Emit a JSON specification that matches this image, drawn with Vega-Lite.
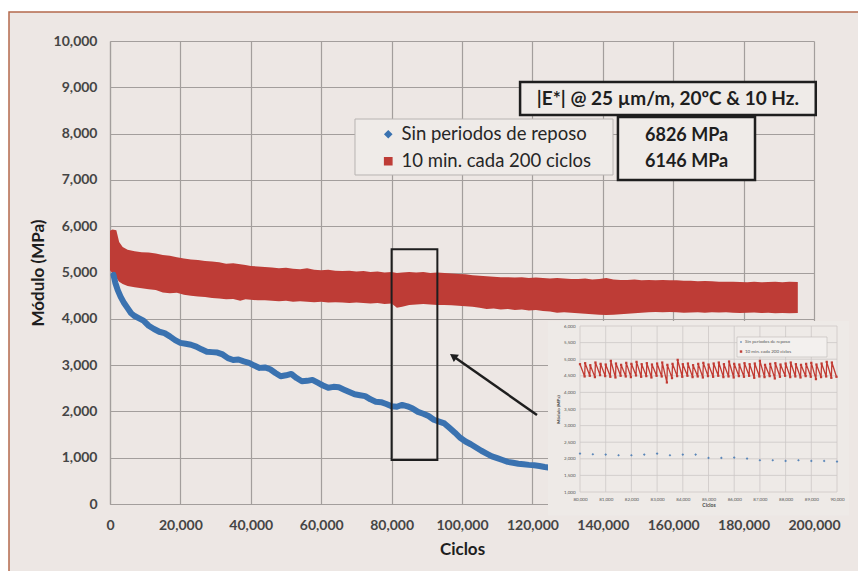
{
  "$schema": "https://vega.github.io/schema/vega-lite/v6.json",
  "width": 704,
  "height": 463,
  "autosize": {"type": "none"},
  "padding": {"left": 110, "top": 41, "right": 44, "bottom": 67},
  "background": "#ede7e4",
  "config": {"view": {"stroke": null}, "font": "Lato", "axis": {"labelFont": "Lato", "titleFont": "Lato"}},
  "data": {"values": [{}]},
  "datasets": {
    "red": [
      {"c":0,"lo":5050,"hi":5900},{"c":700,"lo":4980,"hi":5930},{"c":1800,"lo":4880,"hi":5910},{"c":2600,"lo":4800,"hi":5660},{"c":3600,"lo":4750,"hi":5550},{"c":5000,"lo":4710,"hi":5490},{"c":7000,"lo":4680,"hi":5460},{"c":9000,"lo":4660,"hi":5440},{"c":11000,"lo":4640,"hi":5430},{"c":13000,"lo":4620,"hi":5410},{"c":15000,"lo":4570,"hi":5380},{"c":17000,"lo":4550,"hi":5360},{"c":19000,"lo":4560,"hi":5330},{"c":21000,"lo":4520,"hi":5300},{"c":23000,"lo":4500,"hi":5280},{"c":25000,"lo":4480,"hi":5270},{"c":27000,"lo":4470,"hi":5250},{"c":29000,"lo":4450,"hi":5240},{"c":31000,"lo":4440,"hi":5220},{"c":33000,"lo":4420,"hi":5190},{"c":35000,"lo":4430,"hi":5200},{"c":37000,"lo":4390,"hi":5180},{"c":38500,"lo":4420,"hi":5160},{"c":40000,"lo":4410,"hi":5140},{"c":42000,"lo":4400,"hi":5130},{"c":44000,"lo":4400,"hi":5120},{"c":46000,"lo":4390,"hi":5110},{"c":48000,"lo":4380,"hi":5090},{"c":50000,"lo":4390,"hi":5100},{"c":52000,"lo":4370,"hi":5080},{"c":54000,"lo":4380,"hi":5070},{"c":56000,"lo":4370,"hi":5090},{"c":58000,"lo":4360,"hi":5060},{"c":60000,"lo":4370,"hi":5050},{"c":62000,"lo":4350,"hi":5060},{"c":64000,"lo":4360,"hi":5040},{"c":66000,"lo":4350,"hi":5030},{"c":68000,"lo":4340,"hi":5040},{"c":70000,"lo":4350,"hi":5020},{"c":72000,"lo":4340,"hi":5030},{"c":74000,"lo":4330,"hi":5010},{"c":76000,"lo":4340,"hi":5020},{"c":78000,"lo":4320,"hi":5000},{"c":80000,"lo":4330,"hi":5010},{"c":81500,"lo":4240,"hi":4990},{"c":83000,"lo":4260,"hi":5000},{"c":85000,"lo":4300,"hi":5010},{"c":87000,"lo":4310,"hi":5000},{"c":89000,"lo":4320,"hi":5010},{"c":91000,"lo":4310,"hi":4990},{"c":93000,"lo":4300,"hi":5000},{"c":95000,"lo":4300,"hi":4990},{"c":97000,"lo":4290,"hi":4980},{"c":99000,"lo":4280,"hi":4970},{"c":101000,"lo":4270,"hi":4960},{"c":103000,"lo":4260,"hi":4940},{"c":105000,"lo":4240,"hi":4930},{"c":107000,"lo":4210,"hi":4920},{"c":109000,"lo":4220,"hi":4910},{"c":111000,"lo":4200,"hi":4900},{"c":113000,"lo":4210,"hi":4900},{"c":115000,"lo":4190,"hi":4890},{"c":117000,"lo":4200,"hi":4900},{"c":119000,"lo":4180,"hi":4880},{"c":121000,"lo":4190,"hi":4890},{"c":123000,"lo":4170,"hi":4880},{"c":125000,"lo":4160,"hi":4870},{"c":127000,"lo":4130,"hi":4880},{"c":129000,"lo":4140,"hi":4870},{"c":131000,"lo":4130,"hi":4860},{"c":133000,"lo":4120,"hi":4860},{"c":135000,"lo":4110,"hi":4870},{"c":137000,"lo":4100,"hi":4850},{"c":139000,"lo":4090,"hi":4860},{"c":141000,"lo":4080,"hi":4880},{"c":143000,"lo":4090,"hi":4850},{"c":145000,"lo":4100,"hi":4840},{"c":147000,"lo":4110,"hi":4840},{"c":149000,"lo":4120,"hi":4850},{"c":151000,"lo":4130,"hi":4830},{"c":153000,"lo":4140,"hi":4840},{"c":155000,"lo":4145,"hi":4830},{"c":157000,"lo":4140,"hi":4840},{"c":159000,"lo":4145,"hi":4830},{"c":161000,"lo":4140,"hi":4830},{"c":163000,"lo":4130,"hi":4820},{"c":165000,"lo":4135,"hi":4820},{"c":167000,"lo":4140,"hi":4810},{"c":169000,"lo":4130,"hi":4815},{"c":171000,"lo":4140,"hi":4810},{"c":173000,"lo":4135,"hi":4800},{"c":175000,"lo":4140,"hi":4800},{"c":177000,"lo":4130,"hi":4800},{"c":179000,"lo":4125,"hi":4795},{"c":181000,"lo":4130,"hi":4790},{"c":183000,"lo":4135,"hi":4800},{"c":185000,"lo":4125,"hi":4790},{"c":187000,"lo":4130,"hi":4795},{"c":189000,"lo":4120,"hi":4800},{"c":191000,"lo":4125,"hi":4790},{"c":193000,"lo":4120,"hi":4800},{"c":195400,"lo":4125,"hi":4795}
    ],
    "blue": [
      {"c":1000,"m":4950},{"c":1500,"m":4780},{"c":2200,"m":4620},{"c":3000,"m":4480},{"c":4000,"m":4340},{"c":5000,"m":4230},{"c":6000,"m":4120},{"c":7000,"m":4060},{"c":8000,"m":4020},{"c":9500,"m":3960},{"c":11000,"m":3850},{"c":12500,"m":3780},{"c":14000,"m":3720},{"c":15500,"m":3690},{"c":17000,"m":3620},{"c":18500,"m":3540},{"c":20000,"m":3480},{"c":21500,"m":3460},{"c":23000,"m":3440},{"c":24500,"m":3400},{"c":26000,"m":3340},{"c":27500,"m":3290},{"c":29000,"m":3280},{"c":30500,"m":3270},{"c":32000,"m":3230},{"c":33500,"m":3150},{"c":35000,"m":3110},{"c":36500,"m":3120},{"c":38000,"m":3080},{"c":39500,"m":3050},{"c":41000,"m":2990},{"c":42500,"m":2940},{"c":44000,"m":2950},{"c":45500,"m":2910},{"c":47000,"m":2830},{"c":48500,"m":2760},{"c":50000,"m":2780},{"c":51500,"m":2810},{"c":53000,"m":2720},{"c":54500,"m":2650},{"c":56000,"m":2660},{"c":57500,"m":2680},{"c":59000,"m":2620},{"c":60500,"m":2560},{"c":62000,"m":2510},{"c":63500,"m":2530},{"c":65000,"m":2520},{"c":66500,"m":2470},{"c":68000,"m":2420},{"c":69500,"m":2370},{"c":71000,"m":2350},{"c":72500,"m":2330},{"c":74000,"m":2260},{"c":75500,"m":2210},{"c":77000,"m":2200},{"c":78500,"m":2160},{"c":80000,"m":2110},{"c":81500,"m":2100},{"c":83000,"m":2140},{"c":84500,"m":2110},{"c":86000,"m":2060},{"c":87500,"m":1990},{"c":89000,"m":1950},{"c":90500,"m":1900},{"c":92000,"m":1820},{"c":93500,"m":1780},{"c":95000,"m":1740},{"c":96500,"m":1640},{"c":98000,"m":1540},{"c":99500,"m":1430},{"c":101000,"m":1350},{"c":102500,"m":1290},{"c":104000,"m":1220},{"c":105500,"m":1150},{"c":107000,"m":1090},{"c":108500,"m":1030},{"c":110000,"m":990},{"c":111500,"m":950},{"c":113000,"m":910},{"c":114500,"m":890},{"c":116000,"m":870},{"c":117500,"m":860},{"c":119000,"m":845},{"c":120500,"m":835},{"c":122000,"m":820},{"c":123500,"m":800},{"c":124500,"m":790}
    ],
    "insetRed": [
      {"c":80000,"m":4850},{"c":80180,"m":4480},{"c":80200,"m":4880},{"c":80380,"m":4500},{"c":80400,"m":4820},{"c":80580,"m":4460},{"c":80600,"m":4900},{"c":80780,"m":4520},{"c":80800,"m":4860},{"c":80980,"m":4490},{"c":81000,"m":4840},{"c":81180,"m":4470},{"c":81200,"m":4950},{"c":81380,"m":4450},{"c":81400,"m":4870},{"c":81580,"m":4500},{"c":81600,"m":4830},{"c":81780,"m":4480},{"c":81800,"m":4890},{"c":81980,"m":4460},{"c":82000,"m":4860},{"c":82180,"m":4510},{"c":82200,"m":4920},{"c":82380,"m":4470},{"c":82400,"m":4850},{"c":82580,"m":4490},{"c":82600,"m":4880},{"c":82780,"m":4450},{"c":82800,"m":4840},{"c":82980,"m":4500},{"c":83000,"m":4870},{"c":83180,"m":4480},{"c":83200,"m":4900},{"c":83380,"m":4300},{"c":83400,"m":4830},{"c":83580,"m":4430},{"c":83600,"m":4860},{"c":83780,"m":4490},{"c":83800,"m":4980},{"c":83980,"m":4470},{"c":84000,"m":4850},{"c":84180,"m":4500},{"c":84200,"m":4870},{"c":84380,"m":4460},{"c":84400,"m":4820},{"c":84580,"m":4480},{"c":84600,"m":4860},{"c":84780,"m":4450},{"c":84800,"m":4890},{"c":84980,"m":4490},{"c":85000,"m":4840},{"c":85180,"m":4470},{"c":85200,"m":4870},{"c":85380,"m":4500},{"c":85400,"m":4900},{"c":85580,"m":4460},{"c":85600,"m":4850},{"c":85780,"m":4480},{"c":85800,"m":4930},{"c":85980,"m":4450},{"c":86000,"m":4860},{"c":86180,"m":4490},{"c":86200,"m":4840},{"c":86380,"m":4470},{"c":86400,"m":4880},{"c":86580,"m":4500},{"c":86600,"m":4850},{"c":86780,"m":4440},{"c":86800,"m":4870},{"c":86980,"m":4480},{"c":87000,"m":4950},{"c":87180,"m":4460},{"c":87200,"m":4830},{"c":87380,"m":4490},{"c":87400,"m":4860},{"c":87580,"m":4420},{"c":87600,"m":4880},{"c":87780,"m":4470},{"c":87800,"m":4840},{"c":87980,"m":4500},{"c":88000,"m":4870},{"c":88180,"m":4460},{"c":88200,"m":4900},{"c":88380,"m":4480},{"c":88400,"m":4850},{"c":88580,"m":4450},{"c":88600,"m":4830},{"c":88780,"m":4490},{"c":88800,"m":4860},{"c":88980,"m":4470},{"c":89000,"m":4890},{"c":89180,"m":4400},{"c":89200,"m":4840},{"c":89380,"m":4460},{"c":89400,"m":4870},{"c":89580,"m":4480},{"c":89600,"m":4920},{"c":89780,"m":4440},{"c":89800,"m":4900},{"c":89980,"m":4470}
    ],
    "insetBlue": [
      {"c":80000,"m":2157},{"c":80500,"m":2137},{"c":81000,"m":2127},{"c":81500,"m":2107},{"c":82000,"m":2107},{"c":82500,"m":2127},{"c":83000,"m":2157},{"c":83500,"m":2107},{"c":84000,"m":2127},{"c":84500,"m":2127},{"c":85000,"m":2026},{"c":85500,"m":2026},{"c":86000,"m":2036},{"c":86500,"m":2006},{"c":87000,"m":1956},{"c":87500,"m":1956},{"c":88000,"m":1936},{"c":88500,"m":1956},{"c":89000,"m":1936},{"c":89500,"m":1936},{"c":90000,"m":1916}
    ],
    "igx": [{"v":80000},{"v":81000},{"v":82000},{"v":83000},{"v":84000},{"v":85000},{"v":86000},{"v":87000},{"v":88000},{"v":89000},{"v":90000}],
    "igy": [{"v":1000},{"v":1500},{"v":2000},{"v":2500},{"v":3000},{"v":3500},{"v":4000},{"v":4500},{"v":5000},{"v":5500},{"v":6000}]
  },
  "layer": [
    {
      "layer": [
        {
          "data": {"name": "red"},
          "mark": {"type": "area", "color": "#be3c36"},
          "encoding": {
            "x": {"field": "c", "type": "quantitative",
              "scale": {"domain": [0, 200000], "nice": false, "zero": false},
              "axis": {"values": [0,20000,40000,60000,80000,100000,120000,140000,160000,180000,200000], "format": ",d", "title": "Ciclos",
                "grid": true, "gridColor": "#a39e9c", "gridWidth": 1.2, "domainColor": "#a39e9c", "domainWidth": 1.2, "ticks": false,
                "labelFontSize": 14, "labelFontWeight": "bold", "labelColor": "#454545", "labelPadding": 14, "labelFlush": false, "labelOverlap": false,
                "titleFontSize": 17, "titleFontWeight": "bold", "titleColor": "#1e1e1e", "titlePadding": 9}},
            "y": {"field": "lo", "type": "quantitative",
              "scale": {"domain": [0, 10000], "nice": false, "zero": false},
              "axis": {"values": [0,1000,2000,3000,4000,5000,6000,7000,8000,9000,10000], "format": ",d", "title": "Módulo (MPa)",
                "grid": true, "gridColor": "#a39e9c", "gridWidth": 1.2, "domainColor": "#a39e9c", "domainWidth": 1.2, "ticks": false,
                "labelFontSize": 14, "labelFontWeight": "bold", "labelColor": "#454545", "labelPadding": 13, "labelOverlap": false,
                "titleFontSize": 17, "titleFontWeight": "bold", "titleColor": "#1e1e1e", "titlePadding": 6}},
            "y2": {"field": "hi"},
            "color": {"datum": "10 min. cada 200 ciclos", "type": "nominal"}
          }
        },
        {
          "data": {"name": "blue"},
          "mark": {"type": "line", "strokeWidth": 6, "strokeCap": "round", "strokeJoin": "round"},
          "encoding": {
            "x": {"field": "c", "type": "quantitative"},
            "y": {"field": "m", "type": "quantitative"},
            "color": {"datum": "Sin periodos de reposo", "type": "nominal",
              "scale": {"domain": ["Sin periodos de reposo", "10 min. cada 200 ciclos"], "range": ["#3a72b0", "#be3c36"]},
              "legend": {"orient": "none", "legendX": 269, "legendY": 84, "title": null, "padding": 0, "labelLimit": 400,
                "labelFontSize": 18.5, "labelFont": "Lato", "labelColor": "#262626", "labelOffset": 4, "rowPadding": 8, "symbolSize": 50,
                "encode": {"symbols": {"update": {
                  "shape": {"signal": "datum.value === 'Sin periodos de reposo' ? 'diamond' : 'square'"},
                  "fill": {"signal": "datum.value === 'Sin periodos de reposo' ? '#3a72b0' : '#be3c36'"},
                  "stroke": {"value": "transparent"},
                  "size": {"signal": "datum.value === 'Sin periodos de reposo' ? 42 : 52"}
                }}}}
            }
          }
        },
        {
          "mark": {"type": "rect", "fill": "#efebe8", "stroke": "#b8b4b2", "strokeWidth": 1},
          "encoding": {"x": {"datum": 69600, "type": "quantitative"}, "x2": {"datum": 142900}, "y": {"datum": 8315, "type": "quantitative"}, "y2": {"datum": 7106}}
        },
        {
          "mark": {"type": "rect", "fill": "#efebe8", "stroke": "#1e1e1e", "strokeWidth": 2.5},
          "encoding": {"x": {"datum": 116500, "type": "quantitative"}, "x2": {"datum": 200500}, "y": {"datum": 9114, "type": "quantitative"}, "y2": {"datum": 8402}}
        },
        {
          "mark": {"type": "rect", "fill": "#efebe8", "stroke": "#1e1e1e", "strokeWidth": 2.5},
          "encoding": {"x": {"datum": 144300, "type": "quantitative"}, "x2": {"datum": 183240}, "y": {"datum": 8358, "type": "quantitative"}, "y2": {"datum": 6998}}
        },
        {
          "mark": {"type": "text", "text": "|E*| @ 25 µm/m, 20ºC & 10 Hz.", "font": "Lato", "fontSize": 19, "fontWeight": "bold", "color": "#1e1e1e", "align": "center", "baseline": "middle"},
          "encoding": {"x": {"datum": 158500, "type": "quantitative"}, "y": {"datum": 8758, "type": "quantitative"}}
        },
        {
          "mark": {"type": "text", "text": "6826 MPa", "font": "Lato", "fontSize": 18, "fontWeight": "bold", "color": "#1e1e1e", "align": "center", "baseline": "middle"},
          "encoding": {"x": {"datum": 163800, "type": "quantitative"}, "y": {"datum": 7940, "type": "quantitative"}}
        },
        {
          "mark": {"type": "text", "text": "6146 MPa", "font": "Lato", "fontSize": 18, "fontWeight": "bold", "color": "#1e1e1e", "align": "center", "baseline": "middle"},
          "encoding": {"x": {"datum": 163800, "type": "quantitative"}, "y": {"datum": 7390, "type": "quantitative"}}
        },
        {
          "mark": {"type": "rect", "fill": "transparent", "stroke": "#1e1e1e", "strokeWidth": 2},
          "encoding": {"x": {"datum": 80000, "type": "quantitative"}, "x2": {"datum": 93000}, "y": {"datum": 5500, "type": "quantitative"}, "y2": {"datum": 950}}
        },
        {
          "mark": {"type": "rule", "color": "#1e1e1e", "strokeWidth": 2.5},
          "encoding": {"x": {"datum": 121300, "type": "quantitative"}, "y": {"datum": 1922, "type": "quantitative"}, "x2": {"datum": 97500}, "y2": {"datum": 3192}}
        },
        {
          "mark": {"type": "point", "shape": "triangle-up", "filled": true, "color": "#1e1e1e", "size": 80, "angle": 305, "opacity": 1},
          "encoding": {"x": {"datum": 97500, "type": "quantitative"}, "y": {"datum": 3192, "type": "quantitative"}}
        },
        {
          "mark": {"type": "rect", "fill": "#eeeae7", "clip": false},
          "encoding": {"x": {"datum": 124430, "type": "quantitative"}, "x2": {"datum": 210000}, "y": {"datum": 3952, "type": "quantitative"}, "y2": {"datum": -250}}
        },
        {
          "mark": {"type": "rect", "fill": "white", "clip": false},
          "encoding": {"x": {"datum": -80000, "type": "quantitative"}, "x2": {"datum": -28693}, "y": {"datum": -5000, "type": "quantitative"}, "y2": {"datum": 15000}}
        },
        {
          "mark": {"type": "rect", "fill": "white", "clip": false},
          "encoding": {"x": {"datum": -80000, "type": "quantitative"}, "x2": {"datum": 260000}, "y": {"datum": 10626, "type": "quantitative"}, "y2": {"datum": 15000}}
        },
        {
          "mark": {"type": "rect", "fill": "transparent", "stroke": "#b46a4c", "strokeWidth": 1.5, "clip": false},
          "encoding": {"x": {"datum": -28693, "type": "quantitative"}, "x2": {"datum": 240000}, "y": {"datum": 10626, "type": "quantitative"}, "y2": {"datum": -3000}}
        }
      ]
    },
    {
      "layer": [
        {
          "data": {"name": "igx"},
          "mark": {"type": "rule", "color": "#cdc8c6", "strokeWidth": 0.8},
          "encoding": {
            "x": {"field": "v", "type": "quantitative",
              "scale": {"domain": [80000, 90000], "range": [470, 727], "nice": false, "zero": false},
              "axis": {"orient": "bottom", "offset": -12, "values": [80000,81000,82000,83000,84000,85000,86000,87000,88000,89000,90000], "format": ",d",
                "title": "Ciclos", "grid": false, "domain": false, "ticks": false, "labelFontSize": 4.5, "labelColor": "#555", "labelPadding": 4,
                "labelFlush": false, "labelOverlap": false, "titleFontSize": 5, "titleColor": "#444", "titlePadding": 2, "zindex": 1}},
            "y": {"datum": 1000, "type": "quantitative",
              "scale": {"domain": [1000, 6000], "range": [451, 285], "nice": false, "zero": false},
              "axis": {"orient": "left", "offset": -470, "values": [1000,1500,2000,2500,3000,3500,4000,4500,5000,5500,6000], "format": ",d",
                "title": "Módulo (MPa)", "grid": false, "domain": false, "ticks": false, "labelFontSize": 4.5, "labelColor": "#555", "labelPadding": 5,
                "labelOverlap": false, "titleFontSize": 4.5, "titleColor": "#444", "titlePadding": 3, "zindex": 1}},
            "y2": {"datum": 6000}
          }
        },
        {
          "data": {"name": "igy"},
          "mark": {"type": "rule", "color": "#cdc8c6", "strokeWidth": 0.8},
          "encoding": {
            "y": {"field": "v", "type": "quantitative"},
            "x": {"datum": 80000, "type": "quantitative"},
            "x2": {"datum": 90000}
          }
        },
        {
          "data": {"name": "insetRed"},
          "mark": {"type": "line", "color": "#c23b33", "strokeWidth": 1.3, "point": {"shape": "square", "size": 5, "filled": true, "color": "#c23b33", "opacity": 1}},
          "encoding": {"x": {"field": "c", "type": "quantitative"}, "y": {"field": "m", "type": "quantitative"}}
        },
        {
          "data": {"name": "insetBlue"},
          "mark": {"type": "point", "shape": "diamond", "filled": true, "color": "#5a86b8", "size": 7, "opacity": 1},
          "encoding": {"x": {"field": "c", "type": "quantitative"}, "y": {"field": "m", "type": "quantitative"}}
        },
        {
          "mark": {"type": "rect", "fill": "#f3f0ee", "stroke": "#bdb8b6", "strokeWidth": 0.6},
          "encoding": {"x": {"datum": 86109, "type": "quantitative"}, "x2": {"datum": 89611}, "y": {"datum": 5669, "type": "quantitative"}, "y2": {"datum": 5066}}
        },
        {
          "mark": {"type": "point", "shape": "diamond", "filled": true, "color": "#5a86b8", "size": 5, "opacity": 1},
          "encoding": {"x": {"datum": 86265, "type": "quantitative"}, "y": {"datum": 5518, "type": "quantitative"}}
        },
        {
          "mark": {"type": "point", "shape": "square", "filled": true, "color": "#c0403a", "size": 6, "opacity": 1},
          "encoding": {"x": {"datum": 86265, "type": "quantitative"}, "y": {"datum": 5230, "type": "quantitative"}}
        },
        {
          "mark": {"type": "text", "text": "Sin periodos de reposo", "fontSize": 4.5, "color": "#555", "align": "left", "baseline": "middle"},
          "encoding": {"x": {"datum": 86420, "type": "quantitative"}, "y": {"datum": 5518, "type": "quantitative"}}
        },
        {
          "mark": {"type": "text", "text": "10 min. cada 200 ciclos", "fontSize": 4.5, "color": "#555", "align": "left", "baseline": "middle"},
          "encoding": {"x": {"datum": 86420, "type": "quantitative"}, "y": {"datum": 5230, "type": "quantitative"}}
        }
      ]
    }
  ],
  "resolve": {"scale": {"x": "independent", "y": "independent"}}
}
